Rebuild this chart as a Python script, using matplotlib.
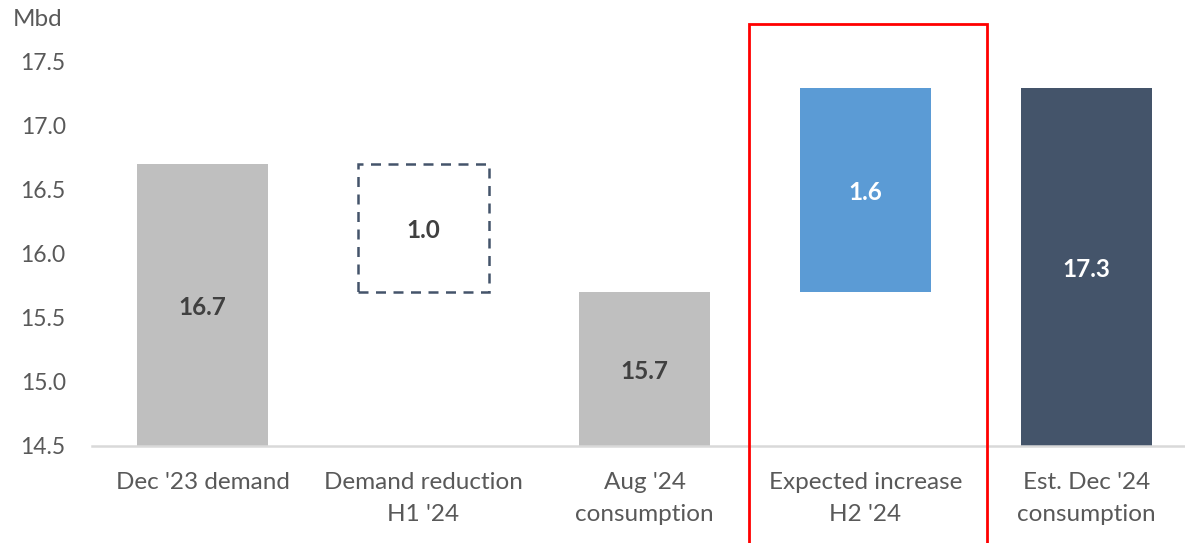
import matplotlib.pyplot as plt
from matplotlib.patches import Rectangle

categories = ["Dec '23 demand", "Demand reduction\nH1 '24", "Aug '24\nconsumption",
              "Expected increase\nH2 '24", "Est. Dec '24\nconsumption"]
bottoms = [14.5, 15.7, 14.5, 15.7, 14.5]
tops = [16.7, 16.7, 15.7, 17.3, 17.3]
labels = ["16.7", "1.0", "15.7", "1.6", "17.3"]
yticks = [14.5, 15.0, 15.5, 16.0, 16.5, 17.0, 17.5]

plt.rcParams['font.family'] = ['Lato', 'DejaVu Sans']

fig = plt.figure(figsize=(11.85, 5.43), dpi=100)
ax = fig.add_axes([92 / 1185, 97 / 543, 1105 / 1185, 448 / 543])

x = list(range(len(categories)))
heights = [t - b for t, b in zip(tops, bottoms)]
fills = ['#BFBFBF', 'none', '#BFBFBF', '#5B9BD5', '#44546A']
text_colors = ['#404040', '#404040', '#404040', 'white', 'white']

for i in x:
    if fills[i] == 'none':
        ax.bar(i, heights[i], bottom=bottoms[i], width=0.59, facecolor='none',
               edgecolor='#44546A', linewidth=1.8, linestyle=(0, (4, 3)), zorder=2)
    else:
        ax.bar(i, heights[i], bottom=bottoms[i], width=0.59, color=fills[i], zorder=2)
    ax.text(i, bottoms[i] + heights[i] / 2 - 0.02, labels[i], ha='center', va='center',
            fontsize=17.5, fontweight='bold', color=text_colors[i], zorder=3)

# highlight box around the expected increase
ax.add_patch(Rectangle((2.471, 12.0), 1.081, 17.797 - 12.0, fill=False,
                       edgecolor='#FF0000', linewidth=2, clip_on=False, zorder=4))

ax.set_xlim(-0.5, 4.5)
ax.set_ylim(14.5, 18.0)
ax.set_yticks(yticks)
ax.set_yticklabels([f"{v:.1f}" for v in yticks], fontsize=16.5)
ax.set_xticks(x)
ax.set_xticklabels(categories, fontsize=17.5, linespacing=1.6)
ax.tick_params(axis='both', length=0, labelcolor='#595959')
ax.tick_params(axis='x', pad=19)
ax.tick_params(axis='y', pad=19)
for s in ['top', 'right', 'left']:
    ax.spines[s].set_visible(False)
ax.spines['bottom'].set_color('#D9D9D9')
ax.spines['bottom'].set_linewidth(1.8)

fig.text(13 / 1185, 1 - 19 / 543, 'Mbd', fontsize=17.5, color='#595959', va='center')

fig.savefig('out.png', dpi=100)
